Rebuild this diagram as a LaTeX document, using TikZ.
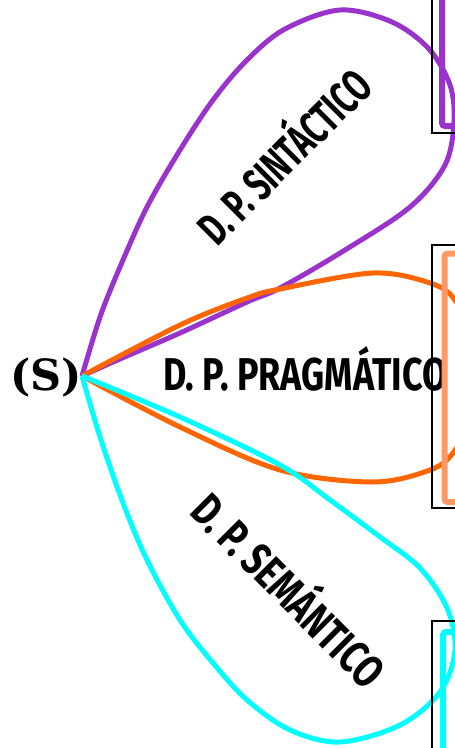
\documentclass[tikz,border=0pt]{standalone}
\usepackage{fontspec}
\newfontfamily\hand{Fira Sans}[FakeStretch=0.78]
\newfontfamily\rootfont{DejaVu Serif}
\definecolor{cpurple}{HTML}{9933CC}
\definecolor{corange}{HTML}{FF6600}
\definecolor{clorange}{HTML}{FF9966}
\definecolor{ccyan}{HTML}{00FFFF}
\begin{document}
\begin{tikzpicture}[x=1pt,y=-1pt,
  loop/.style={line width=5pt, line join=round},
  frame/.style={draw=black, line width=2pt},
  inner/.style={line width=6pt, rounded corners=3pt},
  lbl/.style={font=\hand\bfseries\fontsize{46}{46}\selectfont, inner sep=0pt},
  rootlbl/.style={font=\rootfont\bfseries\fontsize{43}{43}\selectfont, inner sep=0pt}]
\useasboundingbox (0,0) rectangle (455,748);
\clip (0,0) rectangle (455,748);
\coordinate (root) at (82,376);
% loops
\draw[loop, cpurple] plot[smooth, tension=0.55] coordinates {(root) (100,317) (120,267) (147,207) (180,150) (213,100) (247,60) (285,29) (340,10) (392,22) (429,49) (450,85) (454,122) (445,165) (410,207) (345,250) (280,288) (247,302) (180,333) (113,362) (root)};
\draw[loop, corange] plot[smooth, tension=0.55] coordinates {(root) (180,325) (247,298) (280,289) (373,273) (430,283) (455,300) (472,340) (476,378) (470,420) (453,453) (430,470) (373,482) (280,470) (180,427) (root)};
\draw[loop, ccyan] plot[smooth, tension=0.55] coordinates {(root) (100,437) (123,503) (147,560) (180,620) (213,663) (247,700) (290,730) (340,742) (400,725) (440,692) (455,650) (447,608) (420,568) (380,537) (330,500) (280,465) (180,417) (root)};
% labels
\node[rootlbl, anchor=base] (s) at (46,390) {(S)};
\node[lbl, anchor=base] (prag) at (305,390) {D. P. PRAGMÁTICO};
\node[lbl, rotate=45] (sint) at (281,153) {\scalebox{0.85}[1]{D. P. SINTÁCTICO}};
\node[lbl, rotate=-45] (sem) at (292,587) {\scalebox{0.96}[1]{D. P. SEMÁNTICO}};
% boxes on the right
\draw[frame] (432,-10) rectangle (480,133);
\draw[inner, cpurple] (442,-10) rectangle (480,126);
\draw[frame] (432,245) rectangle (480,508);
\draw[inner, clorange] (444.5,253.5) rectangle (480,502);
\draw[frame] (432,621) rectangle (480,760);
\draw[inner, ccyan] (443,632) rectangle (480,760);
\end{tikzpicture}
\end{document}
